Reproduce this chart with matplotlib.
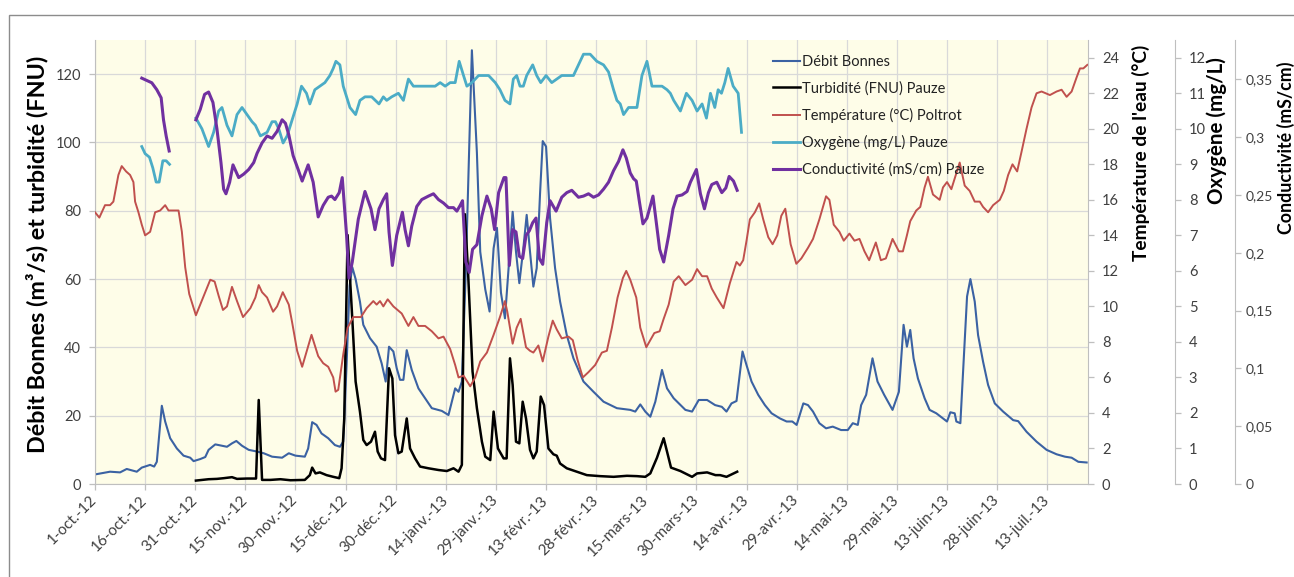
import matplotlib
matplotlib.use("Agg")
import matplotlib.pyplot as plt
from matplotlib.patches import Rectangle

plt.rcParams['font.family'] = ['Lato', 'DejaVu Sans']

# ---------------- data (x = days since 1 Oct 2012) ----------------
x_tick_days = [0, 15, 30, 45, 60, 75, 90, 105, 120, 135, 150, 165, 180, 195, 210, 225, 240, 255, 270, 285]
x_tick_labels = ["1-oct.-12", "16-oct.-12", "31-oct.-12", "15-nov.-12", "30-nov.-12", "15-déc.-12",
                 "30-déc.-12", "14-janv.-13", "29-janv.-13", "13-févr.-13", "28-févr.-13", "15-mars-13",
                 "30-mars-13", "14-avr.-13", "29-avr.-13", "14-mai-13", "29-mai-13", "13-juin-13",
                 "28-juin-13", "13-juil.-13"]

debit_day = [0, 4.5, 7.5, 9.5, 12.5, 14, 16.5, 17.7, 18.5, 20, 21, 22.5, 24.5, 26.5, 28.5, 29.5, 31.5, 33,
             34, 36, 38, 39.5, 41, 42.3, 44, 46, 48.5, 50.5, 53, 56, 58, 60, 62.8, 63.8, 65, 66.3, 67.8,
             69.8, 71.8, 73.3, 74.3, 75.3, 76.2, 77, 78, 79.3, 80.3, 82.3, 84.3, 85.8, 87, 88, 89.3, 90.3,
             91.3, 92.3, 93.3, 94.8, 96.8, 98.8, 100.8, 103.8, 105.8, 106.8, 107.8, 108.8, 109.8, 111,
             112.8, 114.3, 115.3, 116.8, 118.1, 119.3, 120.3, 121.5, 122.7, 125, 126, 127, 128.2, 129.2,
             130.2, 131.2, 132.2, 133.2, 134, 135, 136.2, 137.7, 139.2, 141.2, 143.2, 146.2, 149.2, 152.2,
             156.2, 160.2, 161.7, 163.2, 164.7, 166.2, 167.7, 169.7, 171.2, 173.2, 176.7, 178.7, 180.7,
             183.2, 185.6, 187.6, 189, 190.5, 192, 193.8, 195, 196.5, 198.5, 200.5, 202.5, 205, 207, 208.7,
             210, 212, 213.4, 214.9, 216.8, 218.8, 220.8, 223.3, 225.3, 226.8, 228.3, 229.3, 230.8, 232.7,
             234.2, 236.2, 238.7, 240.6, 242, 243, 244, 245, 246.3, 248.3, 249.8, 251.8, 253.8, 255, 256,
             257.3, 257.8, 259, 261, 262, 263.3, 264.3, 265.8, 267.3, 269.3, 271.8, 274.8, 276.3, 278.8,
             281.8, 284.8, 287.8, 290.3, 292.3, 294.3, 296.8]
debit_val = [2.8, 3.6, 3.4, 4.4, 3.6, 4.8, 5.6, 5.1, 6.5, 22.9, 18.3, 13.4, 10.4, 8.3, 7.7, 6.7, 7.3, 7.9,
             10.0, 11.6, 11.2, 10.9, 11.9, 12.6, 11.2, 10.0, 9.5, 9.0, 8.0, 7.7, 9.0, 8.3, 8.0, 10.4, 18.1,
             17.3, 14.8, 13.4, 11.4, 10.9, 12.4, 35.0, 58.0, 63.5, 60.0, 53.4, 46.6, 42.7, 40.2, 35.3, 30.0,
             40.2, 38.8, 33.9, 30.5, 30.5, 39.2, 33.4, 28.0, 25.1, 22.2, 21.4, 20.2, 24.1, 28.0, 27.0, 30.0,
             63.0, 127.0, 97.0, 68.0, 57.0, 50.5, 69.0, 75.0, 56.0, 48.5, 79.7, 68.0, 58.8, 69.0, 78.8,
             68.0, 57.8, 63.2, 85.0, 100.4, 98.8, 77.8, 63.2, 53.4, 43.6, 36.8, 30.0, 27.0, 24.1, 22.2,
             21.7, 21.2, 23.3, 21.2, 19.7, 24.1, 33.4, 28.0, 25.1, 21.7, 21.2, 24.6, 24.6, 23.1, 22.6, 21.2,
             23.6, 24.3, 38.8, 34.8, 30.0, 26.1, 23.1, 20.7, 19.2, 18.3, 18.3, 17.3, 23.6, 23.1, 21.2, 17.8,
             16.3, 16.8, 15.8, 15.8, 17.8, 17.3, 23.1, 26.1, 36.8, 30.0, 26.1, 21.7, 27.0, 46.6, 40.2, 45.1,
             36.8, 30.9, 25.1, 21.7, 20.7, 19.2, 18.3, 21.0, 20.7, 18.3, 17.8, 54.9, 60.0, 53.4, 43.6, 35.8,
             29.0, 23.6, 21.2, 18.7, 18.4, 15.3, 12.4, 10.0, 8.7, 8.0, 7.7, 6.5, 6.3]

turb_day = [30.2, 34, 36.5, 38.5, 41, 42.5, 45.5, 48.2, 49, 50, 52.5, 55.5, 58.5, 62.8, 64.3, 65, 66, 67.3,
            69.3, 71.3, 73.1, 73.8, 74.6, 75.6, 77, 78, 79.3, 80.3, 81.3, 82.6, 83.8, 84.6, 85.6, 86.8, 88,
            89, 89.8, 90.8, 91.8, 93.3, 94.3, 95.8, 97.3, 99.8, 102.8, 105.3, 107.3, 108.8, 109.8, 110.7,
            111.6, 113, 114.3, 115.8, 116.8, 118.3, 119.3, 120.6, 122.3, 123.2, 124.2, 125, 126, 127, 128,
            129, 130.2, 131.2, 132.2, 133.4, 134.4, 135.7, 137.2, 138.2, 139.2, 141.2, 144.2, 147.2, 151.2,
            155.2, 159.2, 162.2, 164.7, 166.2, 168.2, 170.2, 171.2, 172.4, 175.2, 178.7, 180.2, 183.2,
            185.7, 187.1, 189, 190.5, 192.2]
turb_val = [1.0, 1.4, 1.5, 1.7, 2.0, 1.5, 1.6, 1.6, 24.6, 1.2, 1.2, 1.4, 1.1, 1.2, 2.6, 4.8, 3.1, 3.4,
            2.6, 2.1, 1.7, 4.6, 19.2, 72.9, 48.5, 30.0, 21.2, 12.9, 11.4, 12.4, 15.3, 9.5, 7.5, 7.0, 33.9,
            30.9, 14.3, 9.0, 9.5, 19.2, 10.4, 7.5, 5.1, 4.6, 4.1, 3.8, 4.6, 3.6, 5.6, 79.0,
            63.2, 32.9, 22.2, 12.4, 8.0, 7.0, 21.2, 10.4, 7.5, 7.5, 36.8, 29.0, 12.4, 11.9, 24.1,
            19.2, 10.0, 7.5, 9.5, 25.6, 23.1, 10.4, 8.7, 8.3, 6.0, 4.6, 3.6, 2.6, 2.3,
            2.1, 2.4, 2.3, 2.1, 3.1, 7.7, 13.4, 9.5, 4.8, 3.8, 2.1, 3.1, 3.4,
            2.6, 2.6, 2.1, 2.8, 3.6]

temp_day = [0, 1.3, 3, 4.5, 5.5, 7, 8, 9.3, 10.5, 11.5, 12, 13, 14, 15, 16.5, 18, 19.5, 21, 22, 23.5, 25,
            26, 27, 28.2, 30.2, 31.5, 33, 34.5, 35.8, 37, 38.3, 39.5, 41, 42.5, 44.3, 46.5, 48, 49, 50,
            51.5, 53.3, 54.5, 56.2, 58, 59, 60.5, 62, 64.8, 65.8, 66.8, 68.3, 69.8, 71.3, 72, 72.8, 74.3,
            75.6, 77.3, 79.6, 81.3, 83.3, 84.3, 85.3, 86.3, 87.6, 89.3, 91.8, 93.8, 95.3, 96.8, 98.8, 100.8,
            102.8, 104.3, 106.3, 107.8, 108.8, 110.3, 112.3, 113.8, 115.3, 117.3, 119.3, 121.2, 122.7,
            123.4, 125, 126.2, 127.4, 129, 130.2, 131.2, 132.7, 134, 135.7, 137, 138.2, 139.7, 141.7, 143,
            144.4, 146, 147.7, 149.7, 151.7, 153.2, 154.7, 156.4, 158, 159, 160.2, 162, 163.2, 165, 166.2,
            167.4, 169, 170.2, 171.7, 173.2, 174.7, 176.7, 178.7, 180.2, 181.7, 183.2, 184.6, 186.1, 188.1,
            190, 192, 193, 194, 195, 196, 197.5, 198.8, 200, 201.5, 202.8, 204.2, 205.4, 206.6, 208.2,
            209.9, 211.4, 213.4, 214.9, 216.8, 218.8, 219.8, 221.1, 222.8, 224.1, 225.8, 227.3, 228.8,
            230.3, 231.7, 233.7, 235.2, 236.7, 238.7, 240.6, 241.8, 243, 244, 245.8, 247, 248.3, 249.3,
            250.8, 252.8, 253.8, 255, 256.3, 258.8, 260.3, 261.8, 263.3, 264.8, 265.8, 267.3, 268.8, 270.8,
            272, 273.3, 274.6, 276, 277.3, 278.8, 280.3, 281.8, 283.3, 285.8, 287.8, 289.3, 290.8, 292.3,
            293.8, 294.8, 295.8, 297]
temp_val = [15.3, 15.0, 15.7, 15.7, 15.9, 17.4, 17.9, 17.6, 17.4, 17.0, 15.9, 15.3, 14.6, 14.0, 14.2, 15.3,
            15.4, 15.7, 15.4, 15.4, 15.4, 14.2, 12.2, 10.7, 9.5, 10.1, 10.8, 11.5, 11.4, 10.6, 9.8, 10.0,
            11.1, 10.3, 9.4, 9.9, 10.5, 11.2, 10.8, 10.5, 9.7, 10.0, 10.8, 10.1, 9.1, 7.5, 6.6, 8.4, 7.8,
            7.2, 6.8, 6.6, 6.0, 5.2, 5.3, 7.3, 8.8, 9.4, 9.4, 9.9, 10.3, 10.1, 10.3, 10.0, 10.4, 10.0, 9.6,
            8.9, 9.4, 8.9, 8.9, 8.6, 8.2, 8.3, 7.6, 6.7, 6.0, 6.1, 5.5, 6.0, 6.9, 7.4, 8.4, 9.4, 10.3, 9.7,
            7.9, 8.8, 9.3, 7.7, 7.5, 7.4, 7.8, 6.9, 8.3, 9.2, 8.7, 8.2, 8.3, 8.1, 7.0, 6.0, 6.3, 6.7, 7.4,
            7.5, 8.8, 10.5, 11.6, 12.0, 11.5, 10.5, 8.8, 7.7, 8.1, 8.5, 8.6, 9.3, 10.1, 11.4, 11.7, 11.2,
            11.5, 12.1, 11.7, 11.7, 11.0, 10.5, 9.9, 11.3, 12.5, 12.3, 12.6, 13.7, 14.9, 15.3, 15.8, 14.9,
            13.9, 13.5, 14.0, 15.1, 15.5, 13.5, 12.4, 12.7, 13.3, 13.8, 14.9, 16.2, 16.0, 14.6, 14.2, 13.7,
            14.1, 13.7, 13.8, 13.1, 12.6, 13.6, 12.6, 12.7, 13.8, 13.1, 13.1, 14.0, 14.8, 15.4, 15.6, 16.7,
            17.3, 16.3, 16.0, 16.7, 17.0, 16.6, 18.1, 16.8, 16.5, 15.9, 15.9, 15.6, 15.3, 15.7, 16.0, 16.5,
            17.4, 18.0, 17.6, 18.7, 20.0, 21.2, 22.0, 22.1, 21.9, 22.1, 22.2, 21.8, 22.1, 22.9, 23.4, 23.4,
            23.6]

oxy1_day = [14, 15, 16.3, 17.3, 18.3, 19.2, 20.3, 21.3, 22.3]
oxy1_val = [9.5, 9.3, 9.2, 8.9, 8.5, 8.5, 9.1, 9.1, 9.0]
oxy2_day = [30.2, 32, 34, 35.5, 37, 38, 39.5, 41, 42.5, 44, 45.5, 47, 48, 49.5, 51.5, 53, 54, 55, 56.3,
            57.5, 58.5, 60.5, 61.8, 63.3, 64.3, 65.8, 67.3, 68.8, 70.3, 71.3, 72.1, 73.3, 74.3, 75.3, 76.3,
            78, 79.3, 80.8, 82.8, 85, 86.3, 87.3, 88.8, 90.8, 92.3, 93.8, 95.3, 96.8, 98.3, 100.3, 101.8,
            103.3, 104.8, 106.3, 107.8, 109, 110.3, 111.3, 112.8, 114.8, 116.3, 117.8, 119.8, 121.2, 122.7,
            124.2, 125.2, 126.2, 127.2, 128.2, 129.2, 131, 132.2, 133.4, 135, 136.7, 138.2, 139.7, 141.2,
            143.2, 144.7, 146.2, 148.2, 150.2, 152.2, 153.7, 155.2, 156.2, 157.2, 158.2, 159.7, 161.2,
            162.2, 163.7, 165.2, 166.7, 168.2, 169.7, 171.2, 172.2, 173.2, 175.2, 177, 178.7, 180.2, 181.7,
            183, 184.2, 185.5, 186.5, 187.5, 188.5, 189.5, 191, 192.5, 193.5]
oxy2_val = [10.3, 10.0, 9.5, 9.9, 10.5, 10.6, 10.1, 9.8, 10.4, 10.6, 10.4, 10.2, 10.1, 9.8, 9.9, 10.2,
            10.2, 10.0, 9.6, 9.8, 10.1, 10.7, 11.2, 11.0, 10.7, 11.1, 11.2, 11.3, 11.5, 11.7, 11.9, 11.8,
            11.2, 10.9, 10.6, 10.4, 10.8, 10.9, 10.9, 10.7, 10.9, 10.8, 10.9, 11.0, 10.8, 11.4, 11.2, 11.2,
            11.2, 11.2, 11.2, 11.3, 11.2, 11.3, 11.3, 11.9, 11.5, 11.2, 11.3, 11.5, 11.5, 11.5, 11.3, 11.1,
            10.8, 10.7, 11.4, 11.5, 11.2, 11.2, 11.5, 11.8, 11.5, 11.3, 11.5, 11.3, 11.4, 11.5, 11.5, 11.5,
            11.8, 12.1, 12.1, 11.9, 11.8, 11.6, 11.1, 10.8, 10.7, 10.4, 10.6, 10.6, 10.6, 11.5, 11.9, 11.2,
            11.2, 11.2, 11.1, 11.0, 10.8, 10.5, 11.0, 10.8, 10.5, 10.7, 10.3, 11.0, 10.6, 11.1, 11.0, 11.3,
            11.7, 11.2, 11.0, 9.9]

cond1_day = [14, 15.5, 17, 18.5, 19.8, 20.5, 21.3, 22.2]
cond1_val = [0.351, 0.349, 0.347, 0.341, 0.334, 0.315, 0.301, 0.288]
cond2_day = [30.2, 31.5, 32.8, 34, 35.3, 36.5, 37.7, 38.5, 39.2, 40.3, 41.3, 43, 44.5, 46, 47.5, 48.5, 50,
             51.5, 53, 54.5, 56, 57, 58, 59.3, 60.8, 62, 63.8, 65.3, 66.8, 68.3, 69.8, 70.8, 71.8, 73.1, 74,
             75.3, 76, 77, 78.8, 80.8, 82.6, 83.8, 85, 86.3, 87.3, 88, 89, 90.3, 92, 92.8, 93.8, 94.8, 96.3,
             97.8, 99.8, 101.3, 102.8, 104.3, 105.8, 107.3, 108.3, 109.3, 110, 111, 112, 113, 114.3, 115.8,
             117.3, 118.6, 119.6, 120.8, 122.4, 123, 124, 125, 126, 127, 128, 129, 130, 131, 132, 133, 134,
             135.2, 136.2, 138, 139.7, 141.2, 142.7, 144.7, 146.2, 147.7, 149.2, 150.7, 152.2, 153.7, 155.2,
             156.7, 158, 159, 160.2, 161.2, 162, 163, 164, 165.2, 167, 168, 169, 170.2, 171.7, 173, 174.2,
             175.7, 177.2, 178.2, 180, 181.2, 182.4, 183.6, 184.6, 186.1, 187.6, 188.8, 189.8, 191.1, 192.2]
cond2_val = [0.315, 0.324, 0.337, 0.339, 0.330, 0.307, 0.278, 0.255, 0.251, 0.261, 0.276, 0.265, 0.268,
             0.272, 0.278, 0.286, 0.295, 0.301, 0.299, 0.305, 0.315, 0.312, 0.302, 0.284, 0.272, 0.262,
             0.276, 0.261, 0.231, 0.241, 0.248, 0.249, 0.246, 0.252, 0.265, 0.215, 0.178, 0.192, 0.229,
             0.253, 0.238, 0.220, 0.238, 0.246, 0.251, 0.218, 0.189, 0.215, 0.235, 0.220, 0.206, 0.223,
             0.240, 0.246, 0.249, 0.251, 0.246, 0.243, 0.239, 0.239, 0.236, 0.241, 0.245, 0.192, 0.183,
             0.203, 0.207, 0.232, 0.249, 0.238, 0.220, 0.252, 0.265, 0.265, 0.189, 0.220, 0.218, 0.197,
             0.195, 0.215, 0.219, 0.226, 0.230, 0.195, 0.190, 0.226, 0.245, 0.236, 0.248, 0.252, 0.254,
             0.248, 0.249, 0.251, 0.248, 0.250, 0.255, 0.261, 0.271, 0.279, 0.289, 0.282, 0.269, 0.264,
             0.262, 0.243, 0.225, 0.230, 0.249, 0.226, 0.203, 0.192, 0.215, 0.238, 0.249, 0.250, 0.253,
             0.261, 0.272, 0.251, 0.238, 0.252, 0.259, 0.261, 0.252, 0.256, 0.266, 0.262, 0.254]

left_ticks = [0, 20, 40, 60, 80, 100, 120]
temp_ticks = [0, 2, 4, 6, 8, 10, 12, 14, 16, 18, 20, 22, 24]
oxy_ticks = [0, 1, 2, 3, 4, 5, 6, 7, 8, 9, 10, 11, 12]
cond_ticks = [0, 0.05, 0.1, 0.15, 0.2, 0.25, 0.3, 0.35]
cond_tick_labels = ["0", "0,05", "0,1", "0,15", "0,2", "0,25", "0,3", "0,35"]

series_labels = ["Débit Bonnes", "Turbidité (FNU) Pauze", "Température (°C) Poltrot",
                 "Oxygène (mg/L) Pauze", "Conductivité (mS/cm) Pauze"]

# ---------------- styling ----------------
W, H = 1294, 577
C_DEBIT, C_TURB, C_TEMP, C_OXY, C_COND = '#3B62A3', '#000000', '#C0504D', '#4BACC6', '#7030A0'
GRID = '#D9D9D9'
AXC = '#BFBFBF'
TXT = '#404040'

fig = plt.figure(figsize=(W / 100, H / 100), dpi=100)
fig.patch.set_facecolor('white')
fig.patches.append(Rectangle((9 / W, -0.2), 1.2, 1 - 15 / H + 0.2, transform=fig.transFigure,
                             fill=False, edgecolor='#8C8C8C', lw=1.0))

ax = fig.add_axes([95 / W, 1 - 484 / H, 993 / W, 444 / H])
ax.set_facecolor('#FEFDE8')
ax.set_xlim(0, 297.2)
ax.set_ylim(0, 130)
ax.set_axisbelow(True)
ax.grid(True, color=GRID, lw=0.9)

for s in ['top', 'right']:
    ax.spines[s].set_visible(False)
for s in ['left', 'bottom']:
    ax.spines[s].set_color(AXC)

ax.set_xticks(x_tick_days)
ax.set_xticklabels(x_tick_labels, rotation=45, ha='right', va='center', rotation_mode='anchor',
                   fontsize=11, color=TXT)
ax.set_yticks(left_ticks)
ax.tick_params(axis='both', colors=AXC, length=4, width=0.9, labelcolor=TXT)
ax.tick_params(axis='y', labelsize=10.5, pad=6)
ax.tick_params(axis='x', pad=6)

l_debit, = ax.plot(debit_day, debit_val, color=C_DEBIT, lw=1.5)
l_turb, = ax.plot(turb_day, turb_val, color=C_TURB, lw=1.8)

ax2 = ax.twinx()
ax2.set_ylim(0, 25)
l_temp, = ax2.plot(temp_day, temp_val, color=C_TEMP, lw=1.4)

ax3 = ax.twinx()
ax3.set_ylim(0, 12.5)
ax3.spines['right'].set_position(('axes', 1 + 87 / 993))
l_oxy, = ax3.plot(oxy1_day, oxy1_val, color=C_OXY, lw=2.0)
ax3.plot(oxy2_day, oxy2_val, color=C_OXY, lw=2.0)

ax4 = ax.twinx()
ax4.set_ylim(0, 0.384)
ax4.spines['right'].set_position(('axes', 1 + 147 / 993))
l_cond, = ax4.plot(cond1_day, cond1_val, color=C_COND, lw=2.2)
ax4.plot(cond2_day, cond2_val, color=C_COND, lw=2.2)

for a, ticks in [(ax2, temp_ticks), (ax3, oxy_ticks), (ax4, cond_ticks)]:
    for s in ['top', 'left', 'bottom']:
        a.spines[s].set_visible(False)
    a.spines['right'].set_color(AXC)
    a.set_yticks(ticks)
    a.tick_params(axis='y', colors=AXC, length=4, width=0.9, labelcolor=TXT, labelsize=10.5, pad=6)
ax4.set_yticklabels(cond_tick_labels)
ax4.tick_params(axis='y', pad=4, labelsize=10)

# axis titles
fig.text(37 / W, 1 - 254 / H, "Débit Bonnes (m³/s) et turbidité (FNU)", rotation=90, ha='center',
         va='center', fontsize=16.8, fontweight='bold')
fig.text(1141 / W, 1 - 45 / H, "Température de l'eau (°C)", rotation=90, ha='center', va='top',
         fontsize=13.8, fontweight='bold')
fig.text(1217 / W, 1 - 57 / H, "Oxygène (mg/L)", rotation=90, ha='center', va='top',
         fontsize=14.8, fontweight='bold')
fig.text(1285.5 / W, 1 - 62 / H, "Conductivité (mS/cm)", rotation=90, ha='center', va='top',
         fontsize=12.8, fontweight='bold')

handles = [l_debit, l_turb, l_temp, l_oxy, l_cond]
leg = ax4.legend(handles, series_labels, loc='upper left', bbox_to_anchor=(773 / W, 1 - 55 / H),
                 bbox_transform=fig.transFigure, frameon=False, borderaxespad=0, borderpad=0,
                 handlelength=1.85, handletextpad=0.15, labelspacing=0.84, fontsize=10.5)
for t in leg.get_texts():
    t.set_color('#222222')

fig.savefig('out.png', dpi=100)
